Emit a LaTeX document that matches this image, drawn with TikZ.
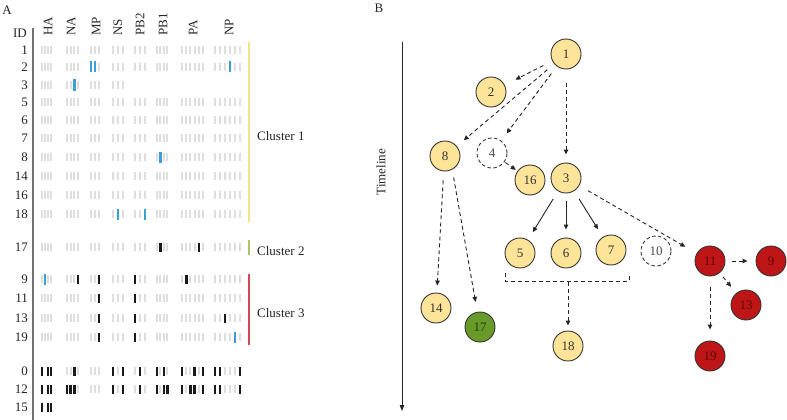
\documentclass[tikz,border=0pt]{standalone}
\usepackage{fontspec}
\setmainfont{Liberation Serif}
\usetikzlibrary{arrows.meta}
\definecolor{nodeyel}{RGB}{253,228,152}
\definecolor{nodegrn}{RGB}{104,154,42}
\definecolor{nodered}{RGB}{190,22,22}
\definecolor{barblue}{RGB}{56,160,214}
\definecolor{cl1}{RGB}{245,228,135}
\definecolor{cl2}{RGB}{172,196,104}
\definecolor{cl3}{RGB}{212,72,88}
\newcommand\genegroup[4]{%
  \foreach \c [count=\i from 0] in {#4} {\draw[bar\c] ({#1+\i*#2},{#3-4}) -- ({#1+\i*#2},{#3+4});}}
\newcommand\generow[9]{%
  \genegroup{42}{3}{#1}{#2}%
  \genegroup{67}{3.7}{#1}{#3}%
  \genegroup{91}{4}{#1}{#4}%
  \genegroup{113}{5}{#1}{#5}%
  \genegroup{135}{5}{#1}{#6}%
  \genegroup{157}{3.4}{#1}{#7}%
  \genegroup{182}{4.2}{#1}{#8}%
  \genegroup{215}{5}{#1}{#9}}
\begin{document}
\begin{tikzpicture}[x=1pt,y=-1pt,
  txt/.style={font=\fontsize{13}{15}\selectfont, text=black!85, inner sep=0pt},
  rowlab/.style={txt, anchor=east},
  genelab/.style={txt, rotate=90, anchor=west},
  bar0/.style={draw=black!13, line width=1.9pt},
  barb/.style={draw=barblue, line width=2.6pt, shorten <=-1.5pt, shorten >=-1.5pt},
  bark/.style={draw=black!90, line width=2.6pt, shorten <=-0.5pt, shorten >=-0.5pt},
  barx/.style={draw=none},
  clline/.style={line width=1.4pt},
  vnode/.style={circle, draw=black!80, line width=0.9pt, minimum size=30pt, inner sep=0pt, font=\fontsize{13}{15}\selectfont},
  yel/.style={vnode, fill=nodeyel, text=black!80},
  grn/.style={vnode, fill=nodegrn, text={rgb,255:red,35;green,65;blue,12}},
  rdn/.style={vnode, fill=nodered, text={rgb,255:red,95;green,8;blue,8}},
  ghost/.style={vnode, dashed, dash pattern=on 3.5pt off 2.5pt, fill=none, text=black!70},
  arr/.style={line width=0.9pt, draw=black!85, -{Triangle[length=5pt,width=4.5pt]}, shorten <=9pt, shorten >=9pt},
  darr/.style={arr, dash pattern=on 4pt off 3pt},
  sarr/.style={arr}]
\useasboundingbox (0,0) rectangle (787,420);
\fill[white] (0,0) rectangle (787,420);
% ---------------- Panel A ----------------
\node[txt] (labA) at (7,10) {A};
\node[txt, anchor=east] (labID) at (27,33) {ID};
\coordinate (axTop) at (33,28);
\coordinate (axBot) at (33,420);
\draw[line width=1.6pt, draw=black!55] (axTop) -- (axBot);
\node[genelab] (gHA) at (48,36) {HA};
\node[genelab] (gNA) at (71,36) {NA};
\node[genelab] (gMP) at (96,36) {MP};
\node[genelab] (gNS) at (118,36) {NS};
\node[genelab] (gPB2) at (140,36) {PB2};
\node[genelab] (gPB1) at (163,36) {PB1};
\node[genelab] (gPA) at (193,36) {PA};
\node[genelab] (gNP) at (229,36) {NP};
% rows
\generow{50}{0,0,0,0}{0,0,0,0}{0,0,0}{0,0,0}{0,0,0}{0,0,0,0}{0,0,0,0,0,0}{0,0,0,0,0,0}
\generow{67}{0,0,0,0}{0,0,0,0}{b,b,0}{0,0,0}{0,0,0}{0,0,0,0}{0,0,0,0,0,0}{0,0,0,b,0,0}
\generow{85}{0,0,0,0}{0,0,b,0}{0,0,0}{0,0,0}{x}{x}{x}{x}
\generow{102}{0,0,0,0}{0,0,0,0}{0,0,0}{0,0,0}{0,0,0}{0,0,0,0}{0,0,0,0,0,0}{0,0,0,0,0,0}
\generow{120}{0,0,0,0}{0,0,0,0}{0,0,0}{0,0,0}{0,0,0}{0,0,0,0}{0,0,0,0,0,0}{0,0,0,0,0,0}
\generow{138}{0,0,0,0}{0,0,0,0}{0,0,0}{0,0,0}{0,0,0}{0,0,0,0}{0,0,0,0,0,0}{0,0,0,0,0,0}
\generow{157}{0,0,0,0}{0,0,0,0}{0,0,0}{0,0,0}{0,0,0}{0,b,0,0}{0,0,0,0,0,0}{0,0,0,0,0,0}
\generow{176}{0,0,0,0}{0,0,0,0}{0,0,0}{0,0,0}{0,0,0}{0,0,0,0}{0,0,0,0,0,0}{0,0,0,0,0,0}
\generow{195}{0,0,0,0}{0,0,0,0}{0,0,0}{0,0,0}{0,0,0}{0,0,0,0}{0,0,0,0,0,0}{0,0,0,0,0,0}
\generow{214}{0,0,0,0}{0,0,0,0}{0,0,0}{0,b,0}{0,0,b}{0,0,0,0}{0,0,0,0,0,0}{0,0,0,0,0,0}
\generow{247}{0,0,0,0}{0,0,0,0}{0,0,0}{0,0,0}{0,0,0}{0,k,0,0}{0,0,0,0,k,0}{0,0,0,0,0,0}
\generow{279}{0,b,0,0}{0,0,0,k}{0,0,k}{0,0,0}{k,0,0}{0,0,0,0}{0,k,0,0,0,0}{0,0,0,0,0,0}
\generow{298}{0,0,0,0}{0,0,0,0}{0,0,k}{0,0,0}{k,0,0}{0,0,0,0}{0,0,0,0,0,0}{0,0,0,0,0,0}
\generow{318}{0,0,0,0}{0,0,0,0}{0,0,k}{0,0,0}{k,0,0}{0,0,0,0}{0,0,0,0,0,0}{0,0,k,0,0,0}
\generow{337}{0,0,0,0}{0,0,0,0}{0,0,k}{0,0,0}{k,0,0}{0,0,0,0}{0,0,0,0,0,0}{0,0,0,0,b,0}
\generow{371}{k,x,k,k}{0,0,k,0}{0,0,0}{k,0,k}{0,k,0}{k,0,k,0}{k,0,0,k,0,k}{k,k,0,0,0,k}
\generow{389}{k,x,k,k}{k,k,k,0}{0,0,0}{k,0,k}{0,k,0}{k,0,k,k}{k,0,k,k,0,k}{k,k,0,0,0,k}
\generow{407}{k,x,k,k}{x}{x}{x}{x}{x}{x}{x}
% row labels
\node[rowlab] (r1) at (28,50) {1};
\node[rowlab] (r2) at (28,67) {2};
\node[rowlab] (r3) at (28,85) {3};
\node[rowlab] (r5) at (28,102) {5};
\node[rowlab] (r6) at (28,120) {6};
\node[rowlab] (r7) at (28,138) {7};
\node[rowlab] (r8) at (28,157) {8};
\node[rowlab] (r14) at (28,176) {14};
\node[rowlab] (r16) at (28,195) {16};
\node[rowlab] (r18) at (28,214) {18};
\node[rowlab] (r17) at (28,247) {17};
\node[rowlab] (r9) at (28,279) {9};
\node[rowlab] (r11) at (28,298) {11};
\node[rowlab] (r13) at (28,318) {13};
\node[rowlab] (r19) at (28,337) {19};
\node[rowlab] (r0) at (28,371) {0};
\node[rowlab] (r12) at (28,389) {12};
\node[rowlab] (r15) at (28,407) {15};
% clusters
\coordinate (c1a) at (249,42); \coordinate (c1b) at (249,222);
\coordinate (c2a) at (249,240); \coordinate (c2b) at (249,255);
\coordinate (c3a) at (249,274); \coordinate (c3b) at (249,345);
\draw[clline, cl1] (c1a) -- (c1b);
\draw[clline, cl2] (c2a) -- (c2b);
\draw[clline, cl3] (c3a) -- (c3b);
\node[txt, anchor=west] (cl1t) at (257,136) {Cluster 1};
\node[txt, anchor=west] (cl2t) at (257,251) {Cluster 2};
\node[txt, anchor=west] (cl3t) at (257,313) {Cluster 3};
% ---------------- Panel B ----------------
\node[txt] (labB) at (379,8) {B};
\coordinate (tlTop) at (402,42);
\coordinate (tlBot) at (402,411);
\draw[line width=0.9pt, draw=black!85, -{Triangle[length=6pt,width=4.5pt]}] (tlTop) -- (tlBot);
\node[txt, rotate=90] (tl) at (381,172) {Timeline};
\node[yel] (n1) at (566,54) {1};
\node[yel] (n2) at (491,92) {2};
\node[yel] (n8) at (445,156) {8};
\node[ghost] (n4) at (492,153) {4};
\node[yel] (n16) at (530,180) {16};
\node[yel] (n3) at (566,178) {3};
\node[yel] (n5) at (520,253) {5};
\node[yel] (n6) at (566,253) {6};
\node[yel] (n7) at (611,250) {7};
\node[ghost] (n10) at (656,251) {10};
\node[rdn] (n11) at (710,261) {11};
\node[rdn] (n9) at (771,261) {9};
\node[rdn] (n13) at (746,305) {13};
\node[rdn] (n19) at (710,356) {19};
\node[yel] (n14) at (436,308) {14};
\node[grn] (n17) at (480,327) {17};
\node[yel] (n18) at (568,346) {18};
% edges
\draw[darr, shorten <=10pt, shorten >=12pt] (n1) -- (n2);
\draw[darr] (n1) -- (n8);
\draw[darr] (n1) -- (n4);
\draw[darr, shorten <=14pt, shorten >=8pt] (n1) -- (n3);
\draw[darr, shorten <=1pt, shorten >=2pt] (n4) -- (n16);
\draw[sarr] (n3) -- (n5);
\draw[sarr, shorten <=8pt, shorten >=8pt] (n3) -- (n6);
\draw[sarr] (n3) -- (n7);
\draw[darr, shorten <=10pt, shorten >=13pt] (n3) -- (n11);
\draw[darr, shorten <=9pt, shorten >=7pt] (n8.-95) -- (n14);
\draw[darr, shorten <=8pt, shorten >=10pt] (n8.-62) -- (n17);
\draw[darr, shorten <=7pt, shorten >=8pt] (n11) -- (n9);
\draw[darr, shorten <=5pt, shorten >=8pt] (n11) -- (n13);
\draw[darr, shorten <=11pt, shorten >=11pt] (n11) -- (n19);
% bracket under 5,6,7
\coordinate (brL) at (505,273);
\coordinate (brLb) at (505,281);
\coordinate (brRb) at (629,281);
\coordinate (brR) at (629,274);
\coordinate (brM) at (568,282);
\draw[line width=0.9pt, draw=black!85, dash pattern=on 4pt off 3pt] (brL) -- (brLb) -- (brRb) -- (brR);
\draw[darr, shorten <=0pt, shorten >=5pt] (brM) -- (n18);
\end{tikzpicture}
\end{document}
